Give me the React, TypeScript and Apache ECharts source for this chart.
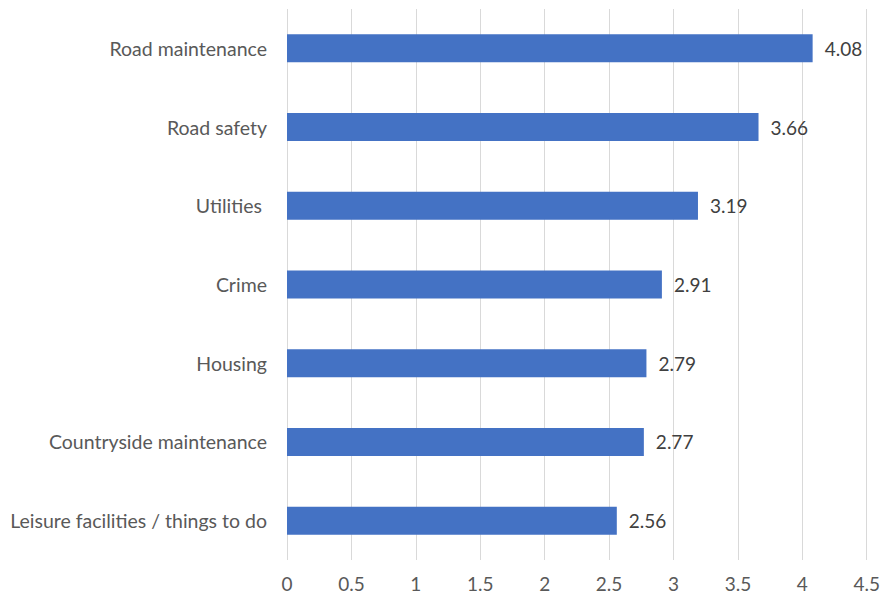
import React, { useEffect, useRef } from "react";
import * as echarts from "echarts";

const categories = [
  "Leisure facilities / things to do",
  "Countryside maintenance",
  "Housing",
  "Crime",
  "Utilities ",
  "Road safety",
  "Road maintenance",
];
const values = [2.56, 2.77, 2.79, 2.91, 3.19, 3.66, 4.08];
const xMin = 0;
const xMax = 4.5;
const xStep = 0.5;

export default function App() {
  const ref = useRef<HTMLDivElement>(null);
  useEffect(() => {
    document.body.style.margin = "0";
    const chart = echarts.init(ref.current!, null, { renderer: "svg" });
    const font = "Lato, 'Open Sans', sans-serif";
    chart.setOption({
      animation: false,
      backgroundColor: "#ffffff",
      grid: { left: 287, right: 14, top: 9, bottom: 37, containLabel: false },
      xAxis: {
        type: "value",
        min: xMin,
        max: xMax,
        interval: xStep,
        axisLine: { show: false },
        axisTick: { show: false },
        splitLine: { show: true, lineStyle: { color: "#d9d9d9", width: 1 } },
        axisLabel: { color: "#595959", fontSize: 19, fontFamily: font, margin: 14 },
      },
      yAxis: {
        type: "category",
        data: categories,
        axisLine: { show: false },
        axisTick: { show: false },
        axisLabel: { color: "#595959", fontSize: 19.5, fontFamily: font, margin: 20 },
      },
      series: [
        {
          type: "bar",
          data: values,
          barWidth: 28,
          itemStyle: { color: "#4472c4" },
          label: {
            show: true,
            position: "right",
            distance: 12,
            color: "#404040",
            fontSize: 19,
            fontFamily: font,
            formatter: (p: any) => p.value.toFixed(2),
          },
        },
      ],
    });
    return () => chart.dispose();
  }, []);
  return <div ref={ref} style={{ width: 883, height: 597 }} />;
}
